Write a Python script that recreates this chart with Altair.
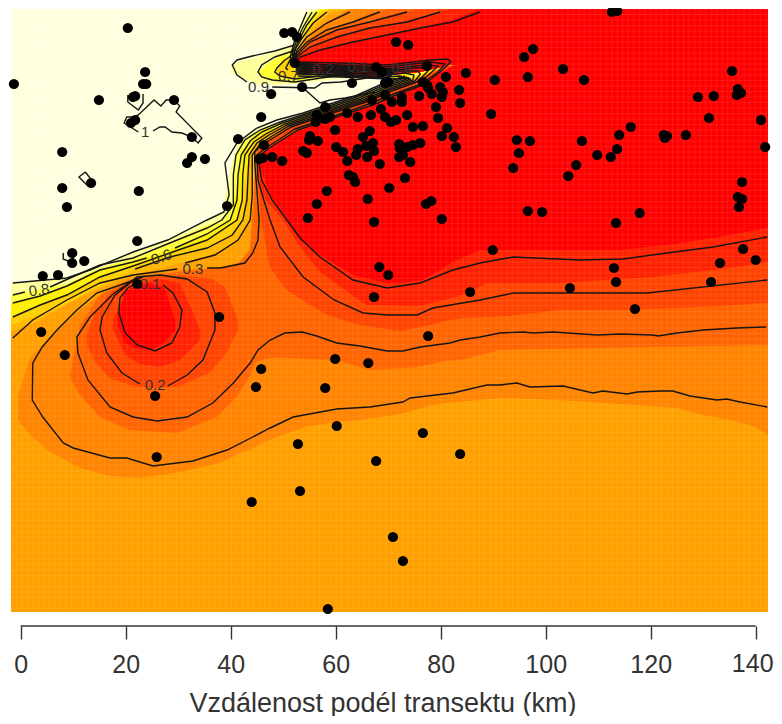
import altair as alt
import numpy as np
import pandas as pd

# ---- observation points: km along the transect, across-transect position
pts_x = [20.4,23.7,23.9,23.3,21.8,21.4,14.9,29.2,21.8,21.0,32.6,-1.3,7.9,32.6,31.7,35.1,13.4,7.9,22.5,8.8,39.3,41.4,45.8,45.4,22.2,
 50.2,51.7,52.6,52.2,53.6,47.7,46.3,71.5,73.8,63.1,67.7,68.8,77.4,84.8,81,83.5,83.7,79.1,79.5,81.2,80.2,82.5,82.9,77.4,76.6,77.6,79.9,80.4,78.3,80.2,75.9,72.6,72.6,70.7,69.4,69.4,70,66.9,68.6,69.4,70.5,71.5,73.6,66.7,64.2,62.2,58,56.4,58.9,58,56.2,59.9,55.1,66.5,65.2,54.9,56.6,60.1,67.1,65.8,64.2,61.4,53.8,54.5,67.3,66,63.9,62.2,47.9,49.8,46.1,68.4,72.1,72.2,76.1,74.7,73.6,72.8,72.1,74.2,74.7,76.6,73.2,70.2,62.5,63.3,63.7,58.3,56.4,66.1,78.2,77.2,80.2,67.3,54.7,
 112.6,113.6,97.6,95.9,103.3,107.3,90.3,96.6,135.5,129,132,136.6,136.4,137.2,131.1,141,89.6,116.2,114,122.5,123.1,122.7,126.7,94.5,97,106.9,113.6,94.9,141.8,109.8,112.4,105.8,93.8,104.3,137.4,136.6,137.4,136.8,96.6,99.3,117.9,113.4,89.9,137.6,133.2,140,113,113.4,131.5,104.6,117,
 9.8,9.8,12.1,4.2,7.1,22.2,37.8,3.9,8.4,25.6,25.9,44.8,45.8,68.3,70,67.3,85.6,77.6,59.9,66.2,58,60.2,76.6,52.8,83.7,67.7,53.2,44,70.9,72.8,58.5]
pts_y = [28,72,84,84,96,97,100,100,120,123,137,84,152,157,163,159,183,188,191,207,206,139,117,159,241,
 33,32,37,63,87,94,145,42,45,83,67,72,66,73,77,90,103,107,118,128,136,137,147,85,82,88,87,92,94,97,96,97,102,102,95,83,82,100,109,117,122,120,115,115,117,113,107,115,117,119,122,130,136,131,137,140,141,147,143,146,149,152,151,153,151,157,155,161,157,161,158,164,144,148,143,145,147,155,157,162,127,126,178,188,175,177,182,191,204,199,201,204,219,222,218,
 12,11,49,57,69,80,80,77,71,97,96,89,95,93,118,120,114,127,135,135,136,138,135,140,141,141,149,153,147,155,157,165,168,176,182,197,199,207,211,212,213,223,250,249,263,260,268,282,282,288,309,
 253,263,261,276,275,284,317,332,355,396,457,387,369,267,275,297,292,336,359,363,388,426,433,444,454,461,491,502,537,561,609]

# ---- level bands: tops along the shared transect samples
band_x = [-1.85,3.7,8.8,14.2,21.4,28.4,35.1,38.3,39.9,41.2,42.3,43.7,44.8,45.9,50.3,54.2,58.9,64.6,72.2,78,80.8,142.34]
band_t1 = [283,281,278,268,252,238,221,213,170,146,138,133,130,127,120,113,105,95,80,68,64,64]
band_t2 = [295,289,284,270,258,243,226,220,209,150,141,136,132,129,121,114,106,96,81,69,65,65]
band_t3 = [303,296,286,272,262,249,235,225,220,190,150,141,134,131,122,115,107,97,82,70,65,65]
band_t4 = [317,305,295,279,266,254,241,231,226,220,195,150,142,134,124,116,108,98,83,71,66,66]
band_t5 = [325,314,304,288,270,258,249,240,235,228,220,154,144,137,125,117,109,99,84,72,66,66]
band_t6 = [332,320,304,290,275,266,257,250,246,241,232,220,150,142,126,118,110,100,85,73,66,66]
band_floor = [612]*22

wedge_x = [51.3,52.2,53.2,54.2,55.3,57,58.9,62.7,66.5,70.3,76.1,81.8,87.5,142.34]
wedge_floor = [60,63,66,70,72,74,75,76,76,75,72,65,68,68]
fan_1 = [57,40,28,14,9,9,9,9,9,9,9,9,9,9]
fan_2 = [60,46,33,22,13,9,9,9,9,9,9,9,9,9]
fan_3 = [60,50,38,29,20,9,9,9,9,9,9,9,9,9]
fan_4 = [60,52,42,33,24,12,9,9,9,9,9,9,9,9]
fan_5 = [60,54,44,35,27,16,9,9,9,9,9,9,9,9]
fan_6 = [60,55,47,39,32,22,13,9,9,9,9,9,9,9]
fan_7 = [60,56,48,41,35,26,20,9,9,9,9,9,9,9]
fan_8 = [60,57,50,44,39,33,29,23,13,9,9,9,9,9]
fan_9 = [60,58,52,47,42,37,33,27,22,15,9,9,9,9]
fan_10 = [60,60,55,51,47,43,39,34,28,25,17,9,9,9]
fan_12 = [60,62,57,55,53,50,47,43,39,34,28,20,9,9]

patch1 = ([40.0,41.8,45.2,48.4,51.7,55.1,59.9,72.2,77],[66,61,57,52,46,60,70,70,70],[72,78,84,85,84,82,79,78,76])
patch2 = ([45.2,47.5,50.3,52.2,57,59.9],[72,62,54,48,66,72],[74,80,82,81,78,73])
patch3 = ([48.8,50.3,52.2,55.1,57],[70,60,52,66,72],[72,78,78,76,72])
patch4 = ([69.4,74.2,77],[72,70,72],[76,82,74])

b7_x = [-0.5,1.8,5.6,11.3,17,22.7,30.3,37.9,41.8,43.7,44.8,45.9,50.3,54.2,58.9,64.6,72.2,78,80.8,91.3,102.7,114.2,125,130,135.1,139.5,141.4,142.34]
b7_t = [395,358,337,310,288,275,270,268,262,248,152,143,127,119,111,101,86,74,67,67,67,67,67,67,67,67,67,67]
b7_b = [420,435,452,468,476,478,472,463,453,450,447,443,434,427,423,420,414,406,403,398,400,404,408,415,420,426,432,436]

b8_x = [9.4,11.3,15.1,20.8,29.8,37.4,41.4,43.7,44.8,45.9,47.5,50.7,60.2,66.5,75.5,80.8,83.7,91.3,142.34]
b8_t = [375,325,295,280,272,268,264,250,160,144,139,128,112,103,85,68,67,67,67]
b8_b = [378,395,417,430,433,417,395,375,362,360,358,358,360,370,367,361,360,350,345]

b9a_x = [12.6,14.2,17,20.8,24.6,30.3,36.1,38.9,41.4]
b9a_t = [335,312,293,281,277,276,278,287,320]
b9a_b = [345,362,378,385,388,386,372,355,330]
b9_x = [44.8,45.9,47.5,50.7,54.2,57.7,58.9,64.6,72.2,78,80.8,84.3,93.2,102.7,114.2,129.4,142.34]
b9_t = [155,145,140,129,121,113,111,101,86,74,66,66,66,66,66,66,66]
b9_b = [157,225,268,290,302,313,316,325,331,325,321,318,316,310,310,307,303]

b10a_x = [17.6,19.9,22.7,26.5,30.3,34.2]
b10a_t = [320,292,283,279,283,330]
b10a_b = [330,355,364,367,360,340]
b10_x = [45,45.9,47.5,50,53.2,57,63.3,66,76.1,83.7,88.8,102.7,120.4,136.4,142.34]
b10_t = [157,153,147,139,129,122,111,107,86,66,66,66,66,66,66]
b10_b = [159,195,205,220,247,272,296,305,306,296,283,283,277,267,262]

b12a_x = [18.5,19.9,21.8,24.6,27.4,29.4]
b12a_t = [315,292,285,283,288,320]
b12a_b = [325,343,348,350,343,330]
b12_x = [45.2,47.5,50.3,53.2,57,63.3,69.8,71.9,76.6,79.9,82.2,87.5,102.7,114.2,123.1,131.9,142.34]
b12_t = [158,148,139,130,122,112,100,95,85,73,66,66,66,66,66,66,66]
b12_b = [160,195,215,240,255,275,283,283,280,270,262,250,250,250,245,238,228]

band_colors = ["#FFFF9A","#FFFF40","#FFEF00","#FFD000","#FFB800","#FFA000","#FF8400","#FF6400","#FF4400","#FF2200","#FF0000"]

# ---- contour lines
contours = {
 "e": ([27.1,29,30.7,30.3,28.8,25.6,22.2,19.9,18.7,18.9,20.4,21.4],[285,293,310,327,343,351,345,333,313,298,288,285]),
 "d": ([28,31.7,34.7,37,37,35.5,31.7,26.5,22.2,18,15.5,15.1,16.4,19.3,22.7],[386,375,360,330,313,292,279,275,277,295,317,330,353,373,384]),
 "c": ([22.2,17.6,13.2,10.7,10.9,12.8,17,21.4,26,31.7,36.6,40.5,43.7,45.2,47.5,50.3,53.6,56.4,60.2,64.6,69.8,72.8,76.1,81.8,83.7,87.5,91.3,95.7,97.6,101.4,109.8,114.2,120.4,121.4,125,130,136.4,142],
       [277,294,317,337,353,380,407,417,421,417,403,383,363,350,340,333,332,336,343,346,351,351,347,343,340,337,333,332,333,332,335,334,335,336,333,330,328,327]),
 "b": ([23.3,14.5,10.7,6.9,4.1,2.3,2.2,4.2,8.1,10,17,20.2,25.2,32.8,39.3,44.2,47.5,51.9,60.2,66.5,72.8,74.2,82.3,88.8,91.3,94.5,97,103.3,109,110.9,115.5,117.4,121.8,124.2,127.5,132.6,134.5,137,142.2],
       [277,293,310,330,347,363,400,417,443,448,458,458,466,461,450,437,428,417,409,407,402,398,393,385,385,383,387,386,393,391,394,392,391,391,396,400,399,402,407]),
 "a1": ([-1.5,2.3,8.8,15.1,21.4,29.8],[338,320,300,283,275,269]),
 "a2": ([35.5,38,42.7,44.2,45.2,45.4,45,44.6,44.6,45.9,48.4,51.5,56,61.2,65.8,70.7,75.5],[268,268,263,253,240,220,190,165,152,145,137,127,119,110,102,91,82]),
 "first": ([142.2,131.9,123.1,114.7,106.5,93.8,87.5,82.3,76.1,69.8,63.3,57,53.2,50.7,47.9,45.9,45.2,47.3,49.8,52.8,57.2,62.4,67.1,71.9,76.6],[237,247,253,259,260,257,263,270,283,288,280,257,238,220,200,180,157,148,140,130,122,113,105,94,85]),
 "second": ([142.2,119.3,93.8,87.5,78.5,75.5,69.8,65.2,59.7,53.8,49.4,47.5,46.3,45.2,45,46.9,49.4,52.2,56.8,62,66.3,71.5,76.3],[280,293,293,300,308,315,315,313,300,277,247,220,200,180,155,147,139,129,121,112,104,93,84]),
 "l1": ([-1.5,8.8,13.2,21.4,28,35.5,38.7,39.7,38.9,41.2,45,48.8,53.8,58.9,63.7,68.4,73.2],[283,278,270,252,240,220,212,195,163,143,128,120,113,104,96,85,76]),
 "l2a": ([-1.5,0.8],[295,292]),
 "l2b": ([5.6,10.7,15.1,21.4,28.4,35.5,38.3,40.5,40.5,41,42.7,45.6,49.4,54.2,59.3,64,68.8,73.6],[287,275,265,258,243,228,220,205,175,155,140,130,122,114,105,97,86,77]),
 "l3a": ([-1.5,3.7,8.8,15.1,21.4,24],[303,296,286,270,262,258]),
 "l3b": ([29.4,35.5,39.9,41.2,41.4,42,43.7,45.9,49.8,54.5,59.7,64.4,69.2,74],[248,234,220,200,175,155,141,132,123,115,106,98,87,78]),
 "l4": ([-1.5,3.7,8.8,15.1,21.4,28.4,35.5,41.2,42.2,42.3,42.7,44.4,46.7,50.3,54.9,60.1,64.8,69.6,74.3],[317,305,295,277,266,253,240,220,200,175,155,142,134,124,116,107,99,88,79]),
 "l5": ([21.8,28.4,35.5,40.3,42.3,43.1,43.3,43.5,45,47.3,50.7,55.3,60.4,65.2,70,74.7],[269,257,248,235,220,200,175,155,143,135,125,117,108,100,89,80]),
 "l6": ([31.3,37,41.4,43.7,44.1,44.1,44.1,45.6,47.9,51.1,55.7,60.8,65.6,70.3,75.1],[263,255,240,220,195,170,155,144,136,126,118,109,101,90,81]),
 "s1": ([76.6,79.9,81.9,81.4,78,69.8,60.8,52.4],[85,72,62,59,60,65,63,62]),
 "s2": ([76.3,79.5,80.8,78,69.8,60.8,52.4],[84,72,64,62,67,65,64]),
 "s3": ([75.9,78.3,79.5,77,69.8,60.8,52.4],[83,72,66,65,69,67,66]),
 "s4": ([75.5,77.2,78,75.1,69.8,60.8,52.4],[82,73,68,68,71,69,68]),
 "s5": ([75.1,76.1,75.7,72.2,69.8,60.8,52.4],[81,74,71,71,73,71,70]),
 "s6": ([74.7,74.9,73.2,69.8,60.8,52.4],[80,75,73,75,73,72]),
 "s7": ([74.3,72.2,69.8,60.8,52.4],[79,76,77,75,74]),
 "s8": ([74,70.3,60.8,52.8],[78,79,77,76]),
 "s9": ([72.2,60.8,52.4],[70,66,63]),
 "s10": ([71.5,60.8,52.4],[72,68,65]),
 "s11": ([71.1,60.8,52.4],[74,70,67]),
 "s12": ([70.7,60.8,52.4],[76,72,69]),
 "s13": ([70.3,60.8,52.4],[78,74,71]),
 "s14": ([69.8,60.8,52.4],[78,76,73]),
 "u1a": ([52.2,48.4,44.1,41.2,40.3,41.2,43.1],[45,51,56,60,65,75,82]),
 "u1b": ([47.9,56,57.4,61,66],[87,88,83,82,78]),
 "u2": ([52.4,48.4,45.9,45.2,45.9,47.9,52.2,58.5,61.8],[50,57,65,72,77,80,82,77,75]),
 "u3": ([52.4,50.3,48.8,48.4,49.4,52.2,57],[53,60,68,72,76,79,76]),
 "u4": ([52.2,51.3,50.5,50.9],[55,60,68,70]),
 "v1": ([53.6,57,58.9,61.8,67.5],[87,103,100,98,92]),
 "f1": ([52.2,51.3,52.2,53.2,54.5],[62,57,40,28,12]),
 "f2": ([52.2,51.7,52.6,53.8,55.5],[62,53,40,27,12]),
 "f3": ([52.2,52,52.8,54.5,56.4],[62,53,42,25,12]),
 "f4": ([52.2,52.2,53.6,55.7,58.3],[62,50,38,23,12]),
 "f5": ([52.2,52.6,54.5,58.3,62.7],[62,50,37,23,12]),
 "f6": ([52.2,52.2,54.5,58.3,63.3,68.4],[62,55,42,30,22,12]),
 "f7": ([52.2,52.6,55.1,60.2,66.5,73.6],[62,55,42,30,22,12]),
 "f8": ([52.2,52.6,55.1,60.2,66.5,73.6,79.9],[62,57,47,37,28,22,12]),
 "f9": ([52.2,53.2,57,63.3,69.8,76.1,82.3,87.5],[62,57,50,42,35,28,22,12]),
 "one": ([22.4,19.7,20.2,21.4,22.4,25.4,26.7,27.7,29.2,30.3,29.6,34.5,33.8,32.6,30.7,28.8,27.5,26.5,25.2],[132,123,117,117,115,100,106,100,100,106,112,138,143,137,133,132,127,127,131]),
 "two": ([20.4,20.4,22.4,23.3,23.3],[95,102,110,103,94]),
 "three": ([12.3,11.1,12.6,13.8,12.3],[172,177,185,182,172]),
 "four": ([8.1,8.1,9.4,10.7],[253,259,262,253]),
}

# ---- contour labels
label_text = ["0.1","0.2","0.3","0.6","0.8","0.9","0.7","0.2","0.1","0.6","1"]
label_x = [24.6,25.6,32.8,26.8,3.5,45.3,51,57.6,64.2,72.6,23.7]
label_y = [284,385,269,257,290,87,76,69,67,68,132]
label_angle = [0,0,0,340,352,0,0,0,0,0,0]

tick_values = [0,20,40,60,80,100,120,140]
x_title = "Vzdálenost podél transektu (km)"

# ---- raster cell seams
cell_x = np.arange(-1.85, 142.34, 1.05)
cell_y = np.arange(9, 612, 5.5)

FONT = "Liberation Sans"
xs = alt.Scale(domain=[-1.85, 142.34], nice=False, zero=False)
ys = alt.Scale(domain=[612, 9], nice=False, zero=False)
AX = alt.Axis(
    values=tick_values, title=x_title, grid=False, domain=False, offset=14,
    tickSize=13, tickWidth=1.4, tickColor="#333333", labelFont=FONT, labelFontSize=25,
    labelColor="#333333", labelPadding=13, labelFlush=False, labelOverlap=False,
    labelExpr="datum.value == 140 ? '' : datum.label",
    titleFont=FONT, titleFontSize=27, titleFontWeight="normal", titleColor="#333333",
    titlePadding=13, titleX=371.5, format="d")
X = alt.X("x:Q", scale=xs, axis=AX)
Y = alt.Y("y:Q", scale=ys, axis=None)


def area(xv, top, bot, color):
    df = pd.DataFrame({"x": xv, "y": top, "y2": bot})
    return alt.Chart(df).mark_area(color=color, opacity=1, clip=True).encode(X, Y, y2="y2:Q")


layers = []
# pale field
layers.append(area([-1.85, 142.34], [9, 9], [612, 612], "#FFFFE0"))
# patches behind the wedge
layers.append(area(patch1[0], patch1[1], patch1[2], "#FFFF9A"))
layers.append(area(patch2[0], patch2[1], patch2[2], "#FFFF30"))
layers.append(area(patch3[0], patch3[1], patch3[2], "#FFD000"))
layers.append(area(patch4[0], patch4[1], patch4[2], "#FFE800"))

tops = [band_t1, band_t2, band_t3, band_t4, band_t5, band_t6]
fans = [fan_1, fan_2, fan_3, fan_4, fan_5, fan_6]
for i in range(6):
    layers.append(area(band_x, tops[i], band_floor, band_colors[i]))
    layers.append(area(wedge_x, fans[i], wedge_floor, band_colors[i]))
layers.append(area(b7_x, b7_t, b7_b, band_colors[6]))
layers.append(area(wedge_x, fan_7, wedge_floor, band_colors[6]))
layers.append(area(b8_x, b8_t, b8_b, band_colors[7]))
layers.append(area(wedge_x, fan_8, wedge_floor, band_colors[7]))
layers.append(area(b9a_x, b9a_t, b9a_b, band_colors[8]))
layers.append(area(b9_x, b9_t, b9_b, band_colors[8]))
layers.append(area(wedge_x, fan_9, wedge_floor, band_colors[8]))
layers.append(area(b10a_x, b10a_t, b10a_b, band_colors[9]))
layers.append(area(b10_x, b10_t, b10_b, band_colors[9]))
layers.append(area(wedge_x, fan_10, wedge_floor, band_colors[9]))
layers.append(area(b12a_x, b12a_t, b12a_b, band_colors[10]))
layers.append(area(b12_x, b12_t, b12_b, band_colors[10]))
layers.append(area(wedge_x, fan_12, wedge_floor, band_colors[10]))

# cell seams of the raster
layers.append(alt.Chart(pd.DataFrame({"x": cell_x})).mark_rule(color="white", opacity=0.1, strokeWidth=0.8).encode(
    X, y=alt.value(0), y2=alt.value(603)))
layers.append(alt.Chart(pd.DataFrame({"y": cell_y})).mark_rule(color="white", opacity=0.1, strokeWidth=0.8).encode(
    Y, x=alt.value(0), x2=alt.value(757)))

# contour lines
rows = []
for name, (cx, cy) in contours.items():
    for k, (a, b) in enumerate(zip(cx, cy)):
        rows.append({"id": name, "ord": k, "x": a, "y": b})
layers.append(alt.Chart(pd.DataFrame(rows)).mark_line(color="#151515", strokeWidth=1.4, clip=True).encode(
    X, Y, detail="id:N", order="ord:Q"))

# labels
lab = pd.DataFrame({"x": label_x, "y": label_y, "t": label_text, "a": label_angle})
layers.append(alt.Chart(lab).mark_text(font=FONT, fontSize=15, color="#333333", align="center", baseline="middle").encode(
    X, Y, text="t:N", angle=alt.Angle("a:Q", scale=None)))

# points
layers.append(alt.Chart(pd.DataFrame({"x": pts_x, "y": pts_y})).mark_point(
    filled=True, color="black", opacity=1, size=105).encode(X, Y))

# axis line spanning only the ticks
layers.append(alt.Chart(pd.DataFrame({"x": [0], "x2": [140]})).mark_rule(color="#333333", strokeWidth=1.4).encode(
    X, x2="x2:Q", y=alt.value(617)))

# last tick label, nudged to stay on the page
layers.append(alt.Chart(pd.DataFrame({"x": [140], "t": ["140"]})).mark_text(
    font=FONT, fontSize=25, color="#333333", align="center", baseline="alphabetic", dx=-3).encode(
    X, y=alt.value(663), text="t:N"))

chart = alt.layer(*layers).properties(
    width=757, height=603,
    autosize=alt.AutoSizeParams(type="none"),
    padding={"left": 3, "top": 1, "right": 6, "bottom": 104}, background="white"
).configure_view(stroke=None)

chart.save("out.html", embed_options={"renderer": "svg", "actions": False})
